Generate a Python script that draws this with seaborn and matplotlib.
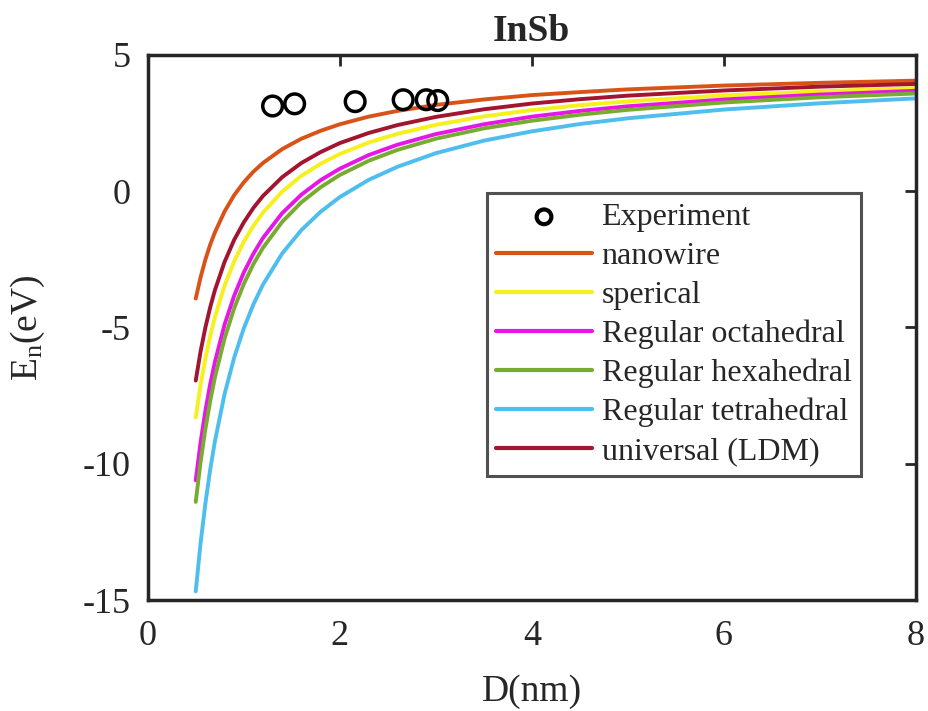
import numpy as np
import pandas as pd
import matplotlib
matplotlib.use("Agg")
import matplotlib.pyplot as plt
import seaborn as sns

# ---- data ----
D = [0.5, 0.55, 0.6, 0.65, 0.7, 0.8, 0.9, 1.0, 1.1, 1.2, 1.4, 1.6, 1.8, 2.0,
     2.3, 2.6, 3.0, 3.5, 4.0, 4.5, 5.0, 6.0, 7.0, 8.0]
nanowire = [-3.94, -3.17, -2.52, -1.97, -1.51, -0.75, -0.15, 0.32, 0.71, 1.03, 1.54, 1.92,
            2.21, 2.45, 2.73, 2.94, 3.16, 3.36, 3.52, 3.63, 3.73, 3.87, 3.97, 4.05]
sperical = [-8.30, -7.13, -6.15, -5.33, -4.62, -3.47, -2.58, -1.86, -1.28, -0.79, -0.02, 0.56,
            1.00, 1.36, 1.78, 2.10, 2.43, 2.74, 2.97, 3.15, 3.29, 3.51, 3.66, 3.78]
octahedral = [-10.61, -9.23, -8.07, -7.09, -6.26, -4.90, -3.84, -2.99, -2.30, -1.72, -0.81, -0.13,
              0.40, 0.82, 1.32, 1.70, 2.09, 2.45, 2.73, 2.94, 3.11, 3.36, 3.54, 3.68]
hexahedral = [-11.40, -9.95, -8.74, -7.71, -6.83, -5.41, -4.30, -3.41, -2.68, -2.08, -1.13, -0.41,
              0.14, 0.59, 1.11, 1.51, 1.92, 2.30, 2.58, 2.80, 2.98, 3.25, 3.44, 3.58]
tetrahedral = [-14.68, -12.93, -11.47, -10.23, -9.17, -7.45, -6.11, -5.04, -4.16, -3.43, -2.29, -1.43,
               -0.76, -0.22, 0.41, 0.89, 1.39, 1.85, 2.19, 2.46, 2.67, 2.99, 3.22, 3.40]
ldm = [-6.95, -5.89, -5.01, -4.27, -3.63, -2.60, -1.79, -1.15, -0.62, -0.18, 0.51, 1.03,
       1.43, 1.76, 2.13, 2.42, 2.72, 3.00, 3.21, 3.37, 3.50, 3.69, 3.83, 3.93]

exp_D = [1.30, 1.53, 2.16, 2.66, 2.90, 3.02]
exp_E = [3.12, 3.20, 3.28, 3.35, 3.35, 3.32]

series_names = ["nanowire", "sperical", "Regular octahedral", "Regular hexahedral",
                "Regular tetrahedral", "universal (LDM)"]
series_vals = [nanowire, sperical, octahedral, hexahedral, tetrahedral, ldm]
colors = ["#D95319", "#F5F01E", "#E616E6", "#77AC30", "#4DBEEE", "#A2142F"]

x_ticks = [0, 2, 4, 6, 8]
y_ticks = [-15, -10, -5, 0, 5]

# ---- style ----
sns.set_style("white")
plt.rcParams["font.family"] = ["Liberation Serif", "DejaVu Serif"]
plt.rcParams["mathtext.fontset"] = "custom"
plt.rcParams["mathtext.rm"] = "Liberation Serif"
plt.rcParams["mathtext.it"] = "Liberation Serif"
plt.rcParams["axes.unicode_minus"] = False

rows = []
for name, vals in zip(series_names, series_vals):
    for d, e in zip(D, vals):
        rows.append({"D": d, "E": e, "model": name})
df = pd.DataFrame(rows)
df_exp = pd.DataFrame({"D": exp_D, "E": exp_E})

fig = plt.figure(figsize=(9.29, 7.11), dpi=100)
ax = fig.add_axes([0.159, 0.156, 0.827, 0.767])

sns.scatterplot(data=df_exp, x="D", y="E", ax=ax, marker="o", s=200,
                facecolors="none", edgecolor="black", linewidth=2.5,
                label="Experiment", zorder=5)
sns.lineplot(data=df, x="D", y="E", hue="model", hue_order=series_names,
             palette=dict(zip(series_names, colors)), ax=ax, linewidth=2.8,
             sort=False, estimator=None)

ax.set_xlim(0, 8)
ax.set_ylim(-15, 5)
ax.set_xticks(x_ticks)
ax.set_yticks(y_ticks)
ax.tick_params(direction="in", length=8, width=2, labelsize=26, top=True, right=True,
               labeltop=False, labelright=False, colors="#262626")
ax.tick_params(axis="x", pad=14)
ax.tick_params(axis="y", pad=12)
for sp in ax.spines.values():
    sp.set_linewidth(2.5)
    sp.set_color("#262626")

ax.set_xlabel("D(nm)", fontsize=27, color="#262626", labelpad=16)
ax.set_ylabel(r"$\mathrm{E_n(eV)}$", fontsize=27, color="#262626", labelpad=26)
ax.set_title("InSb", fontsize=27, fontweight="bold", pad=10)

handles, labels = ax.get_legend_handles_labels()
leg = ax.legend(handles, labels, loc="upper left", bbox_to_anchor=(0.441, 0.746),
                fontsize=23, frameon=True, fancybox=False, edgecolor="#262626",
                handlelength=3.0, handletextpad=0.3, labelspacing=0.3,
                borderpad=0.3, borderaxespad=0, markerscale=0.75)
leg.get_frame().set_linewidth(2.2)
for h in leg.legend_handles:
    try:
        h.set_linewidth(3)
    except Exception:
        pass

fig.savefig("out.png", dpi=100)
